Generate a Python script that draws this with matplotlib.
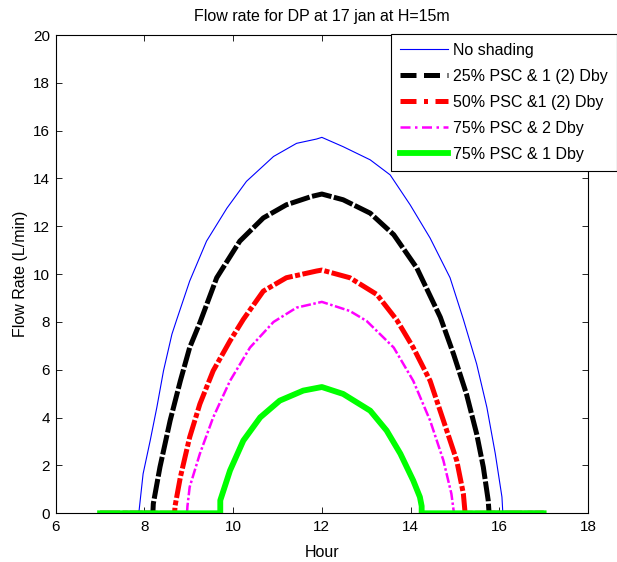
import matplotlib

matplotlib.use("Agg")
import matplotlib.pyplot as plt
from matplotlib.lines import Line2D

# values (hour, L/min)
no_shading_hour = [7.0, 7.86, 7.88, 7.97, 8.13, 8.28, 8.43, 8.62, 8.73, 9.02, 9.40, 9.86,
                   10.30, 10.91, 11.43, 11.88, 12.0, 12.48, 13.09, 13.54, 13.99, 14.44,
                   14.89, 15.19, 15.49, 15.72, 15.91, 16.06, 16.08, 17.0]
no_shading_flow = [0.0, 0.0, 0.12, 1.65, 3.04, 4.43, 5.96, 7.49, 8.11, 9.71, 11.38, 12.76,
                   13.88, 14.92, 15.47, 15.65, 15.72, 15.33, 14.78, 14.15, 12.9, 11.51,
                   9.85, 8.11, 6.24, 4.43, 2.49, 0.68, 0.0, 0.0]

psc25_hour = [7.0, 8.19, 8.20, 8.35, 8.58, 8.81, 9.02, 9.25, 9.63, 10.15, 10.68, 11.20,
              11.77, 12.0, 12.48, 13.09, 13.62, 14.14, 14.67, 14.97, 15.26, 15.49,
              15.64, 15.75, 15.77, 17.0]
psc25_flow = [0.0, 0.0, 0.4, 1.93, 3.88, 5.54, 6.93, 7.97, 9.85, 11.38, 12.35, 12.9,
              13.25, 13.35, 13.11, 12.55, 11.65, 10.26, 8.2, 6.65, 4.99, 3.32,
              1.93, 0.54, 0.0, 0.0]

psc50_hour = [7.0, 8.68, 8.69, 8.81, 9.02, 9.25, 9.55, 9.93, 10.23, 10.68, 11.20, 11.88,
              12.0, 12.63, 13.24, 13.69, 14.06, 14.44, 14.74, 15.04, 15.19, 15.22,
              15.23, 17.0]
psc50_flow = [0.0, 0.0, 0.3, 1.51, 3.18, 4.57, 5.96, 7.21, 8.11, 9.29, 9.85, 10.13,
              10.17, 9.85, 9.15, 8.08, 6.93, 5.54, 3.88, 2.21, 0.82, 0.2,
              0.0, 0.0]

psc75_2_hour = [7.0, 8.96, 8.97, 9.02, 9.25, 9.55, 9.93, 10.38, 10.91, 11.43, 12.0,
                12.63, 13.01, 13.62, 14.06, 14.44, 14.74, 14.92, 14.97, 14.98, 17.0]
psc75_2_flow = [0.0, 0.0, 0.3, 1.1, 2.49, 4.01, 5.54, 6.93, 8.0, 8.6, 8.84,
                8.46, 8.04, 6.93, 5.54, 3.88, 2.21, 0.82, 0.12, 0.0, 0.0]

psc75_1_hour = [7.0, 9.71, 9.71, 9.93, 10.23, 10.61, 11.05, 11.58, 12.0,
                12.48, 13.09, 13.46, 13.77, 14.06, 14.21, 14.25, 14.25, 17.0]
psc75_1_flow = [0.0, 0.0, 0.54, 1.79, 3.04, 4.01, 4.71, 5.13, 5.28,
                4.99, 4.29, 3.46, 2.49, 1.37, 0.68, 0.3, 0.0, 0.0]

labels = ["No shading", "25% PSC & 1 (2) Dby", "50% PSC &1 (2) Dby",
          "75% PSC & 2 Dby", "75% PSC & 1 Dby"]

plt.rcParams["font.family"] = ["Liberation Sans", "DejaVu Sans"]
plt.rcParams["font.size"] = 11

fig = plt.figure(figsize=(6.17, 5.62), dpi=100)
ax = fig.add_axes([0.0903, 0.0867, 0.8627, 0.851])

styles = [
    dict(color="#0000ff", linewidth=0.8, linestyle="-"),
    dict(color="black", linewidth=3.6, dashes=(4, 0.5)),
    dict(color="#ff0000", linewidth=3.6, dashes=(4, 0.5, 1, 0.5)),
    dict(color="#ff00ff", linewidth=1.8, dashes=(4, 1, 1, 1)),
    dict(color="#00ff00", linewidth=4.2, linestyle="-"),
]
legend_styles = [
    dict(color="#0000ff", linewidth=0.8, linestyle="-"),
    dict(color="black", linewidth=3.6, dashes=(3.2, 1.5)),
    dict(color="#ff0000", linewidth=3.6, dashes=(3.2, 1.5, 0.8, 1.5)),
    dict(color="#ff00ff", linewidth=1.8, dashes=(4, 1.8, 1, 1.8)),
    dict(color="#00ff00", linewidth=4.2, linestyle="-"),
]
series = [
    (no_shading_hour, no_shading_flow),
    (psc25_hour, psc25_flow),
    (psc50_hour, psc50_flow),
    (psc75_2_hour, psc75_2_flow),
    (psc75_1_hour, psc75_1_flow),
]
for (hours, flow), style in zip(series, styles):
    ax.plot(hours, flow, solid_joinstyle="round", dash_joinstyle="round", **style)

ax.set_xlim(6, 18)
ax.set_ylim(0, 20)
ax.set_xticks(range(6, 19, 2))
ax.set_yticks(range(0, 21, 2))
ax.tick_params(direction="in", top=True, right=True, length=4, width=0.6, labelsize=11)
ax.tick_params(axis="x", pad=5)
ax.tick_params(axis="y", pad=4)
for spine in ax.spines.values():
    spine.set_linewidth(0.8)
ax.set_title("Flow rate for DP at 17 jan at H=15m", fontsize=11.5, pad=10)
ax.set_xlabel("Hour", fontsize=11.5, labelpad=8)
ax.set_ylabel("Flow Rate (L/min)", fontsize=11.5, labelpad=4)

handles = [Line2D([], [], **st) for st in legend_styles]
leg = fig.legend(
    handles,
    labels,
    loc="upper left",
    bbox_to_anchor=(0.6337, 0.9395),
    borderaxespad=0.0,
    frameon=True,
    fancybox=False,
    edgecolor="black",
    framealpha=1.0,
    handlelength=3.05,
    handletextpad=0.3,
    labelspacing=0.69,
    borderpad=0.55,
    fontsize=11.5,
)
leg.get_frame().set_linewidth(0.8)

fig.savefig("out.png", dpi=100, facecolor="white")
